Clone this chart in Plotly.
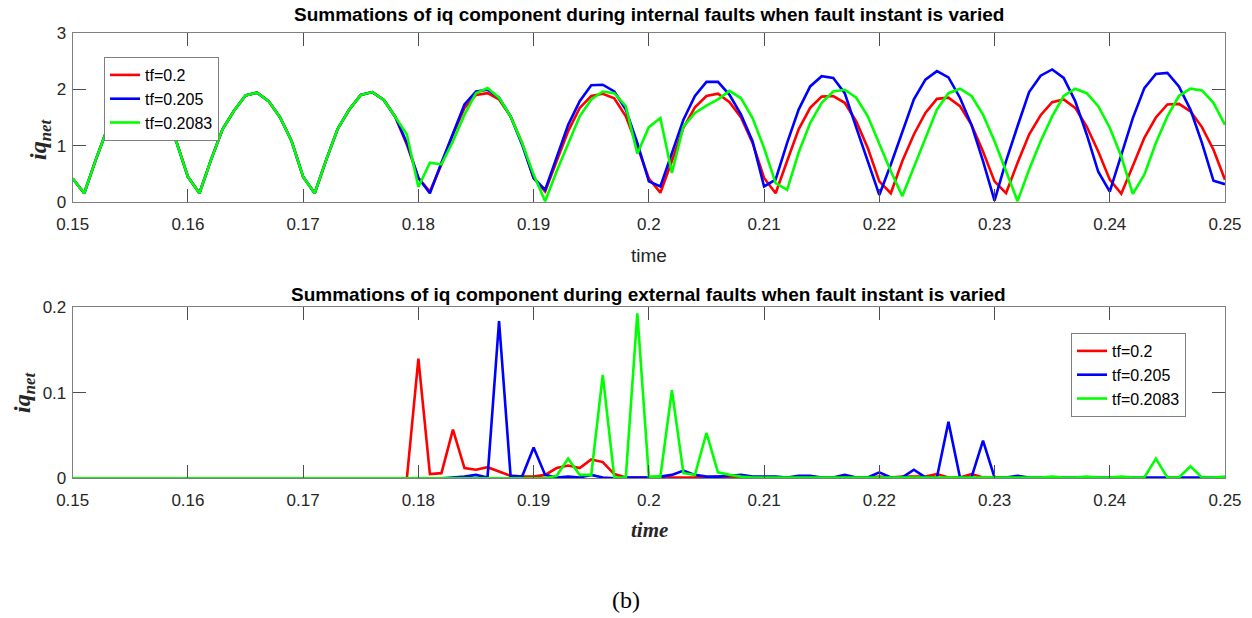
import numpy as np
import plotly.graph_objects as go

# ---------------- data ----------------
time = np.round(np.linspace(0.15, 0.25, 101), 3)

# internal faults: common pre-fault part 0.150 .. 0.178
int_pre = [0.42, 0.16, 0.75, 1.30, 1.62, 1.88, 1.93, 1.78, 1.49, 1.07,
           0.45, 0.16, 0.75, 1.29, 1.62, 1.89, 1.94, 1.79, 1.50, 1.08,
           0.45, 0.16, 0.75, 1.30, 1.64, 1.90, 1.95, 1.81, 1.51]
# 0.179 .. 0.250
int_tf_0200 = [1.02, 0.43, 0.19, 0.67, 1.20, 1.67, 1.90, 1.93, 1.82, 1.52,
               1.05, 0.43, 0.19, 0.73, 1.26, 1.67, 1.88, 1.92, 1.84, 1.52,
               0.99, 0.42, 0.17, 0.73, 1.32, 1.68, 1.88, 1.92, 1.77, 1.50,
               1.05, 0.43, 0.16, 0.73, 1.29, 1.67, 1.87, 1.88, 1.76, 1.43,
               0.96, 0.37, 0.16, 0.73, 1.20, 1.58, 1.83, 1.85, 1.70, 1.37,
               0.90, 0.37, 0.16, 0.70, 1.20, 1.54, 1.77, 1.82, 1.67, 1.34,
               0.90, 0.40, 0.15, 0.64, 1.14, 1.50, 1.73, 1.74, 1.61, 1.33,
               0.93, 0.40]
int_tf_0205 = [1.05, 0.43, 0.16, 0.70, 1.23, 1.73, 1.96, 1.99, 1.85, 1.52,
               1.02, 0.43, 0.22, 0.78, 1.37, 1.79, 2.07, 2.08, 1.96, 1.64,
               1.05, 0.37, 0.28, 0.87, 1.46, 1.88, 2.13, 2.13, 1.90, 1.55,
               1.08, 0.28, 0.40, 1.05, 1.64, 2.05, 2.23, 2.20, 1.93, 1.32,
               0.73, 0.13, 0.67, 1.26, 1.82, 2.17, 2.32, 2.21, 1.85, 1.37,
               0.73, 0.03, 0.73, 1.35, 1.95, 2.24, 2.35, 2.20, 1.79, 1.20,
               0.54, 0.19, 0.84, 1.49, 2.02, 2.27, 2.29, 2.05, 1.64, 1.05,
               0.38, 0.32]
int_tf_02083 = [1.20, 0.27, 0.70, 0.67, 1.08, 1.55, 1.93, 2.02, 1.85, 1.52,
                1.05, 0.49, 0.02, 0.55, 1.02, 1.52, 1.82, 1.96, 1.93, 1.70,
                0.86, 1.33, 1.49, 0.52, 1.34, 1.58, 1.71, 1.82, 1.97, 1.84,
                1.49, 0.96, 0.34, 0.22, 0.88, 1.40, 1.76, 1.96, 1.99, 1.85,
                1.52, 1.02, 0.55, 0.11, 0.61, 1.14, 1.64, 1.93, 2.01, 1.88,
                1.55, 1.08, 0.55, 0.02, 0.58, 1.08, 1.52, 1.88, 2.01, 1.93,
                1.70, 1.32, 0.81, 0.15, 0.49, 1.05, 1.52, 1.88, 2.01, 1.98,
                1.76, 1.37]

# external faults: zero pre-fault part 0.150 .. 0.178
ext_pre = [0.0] * 29
# 0.179 .. 0.250
ext_tf_0200 = [0.0, 0.140, 0.005, 0.006, 0.057, 0.012, 0.010, 0.013, 0.008, 0.003,
               0.002, 0.002, 0.004, 0.012, 0.015, 0.012, 0.022, 0.019, 0.005, 0.001,
               0.001, 0.001, 0.001, 0.001, 0.001, 0.001, 0.001, 0.002, 0.001, 0.001,
               0.001, 0.001, 0.001, 0.001, 0.001, 0.001, 0.001, 0.001, 0.002, 0.001,
               0.001, 0.002, 0.001, 0.002, 0.002, 0.002, 0.005, 0.001, 0.001, 0.005,
               0.001, 0.001, 0.001, 0.001, 0.0, 0.0, 0.0, 0.0, 0.0, 0.0,
               0.0, 0.0, 0.0, 0.0, 0.0, 0.0, 0.0, 0.0, 0.0, 0.0,
               0.0, 0.0]
ext_tf_0205 = [0.0, 0.0, 0.0, 0.0, 0.001, 0.002, 0.004, 0.001, 0.184, 0.003,
               0.002, 0.036, 0.004, 0.001, 0.002, 0.001, 0.004, 0.001, 0.0, 0.001,
               0.001, 0.001, 0.002, 0.004, 0.009, 0.004, 0.002, 0.002, 0.003, 0.004,
               0.002, 0.002, 0.002, 0.001, 0.003, 0.003, 0.001, 0.001, 0.004, 0.001,
               0.001, 0.007, 0.001, 0.001, 0.010, 0.001, 0.001, 0.066, 0.001, 0.001,
               0.044, 0.001, 0.001, 0.003, 0.001, 0.001, 0.001, 0.001, 0.001, 0.001,
               0.001, 0.001, 0.001, 0.001, 0.001, 0.001, 0.001, 0.001, 0.001, 0.001,
               0.001, 0.001]
ext_tf_02083 = [0.0, 0.0, 0.0, 0.0, 0.0, 0.0, 0.0, 0.0, 0.0, 0.0,
                0.0, 0.0, 0.0, 0.003, 0.023, 0.004, 0.004, 0.121, 0.001, 0.001,
                0.193, 0.002, 0.002, 0.103, 0.006, 0.004, 0.053, 0.007, 0.004, 0.002,
                0.001, 0.001, 0.001, 0.001, 0.001, 0.001, 0.001, 0.001, 0.001, 0.001,
                0.001, 0.001, 0.001, 0.001, 0.001, 0.001, 0.001, 0.001, 0.001, 0.001,
                0.001, 0.001, 0.001, 0.001, 0.001, 0.001, 0.002, 0.001, 0.001, 0.002,
                0.001, 0.001, 0.002, 0.001, 0.001, 0.023, 0.001, 0.001, 0.014, 0.001,
                0.001, 0.002]

series_names = ["tf=0.2", "tf=0.205", "tf=0.2083"]
series_colors = ["#ff0000", "#0000ff", "#00ff00"]

x_tick_vals = [0.15, 0.16, 0.17, 0.18, 0.19, 0.20, 0.21, 0.22, 0.23, 0.24, 0.25]
x_tick_text = ["0.15", "0.16", "0.17", "0.18", "0.19", "0.2", "0.21", "0.22", "0.23", "0.24", "0.25"]
top_y_ticks = [0, 1, 2, 3]
bot_y_ticks = [0, 0.1, 0.2]
bot_y_text = ["0", "0.1", "0.2"]

top_title = "Summations of iq component during internal faults when fault instant is varied"
bot_title = "Summations of iq component during external faults when fault instant is varied"

internal = [int_pre + int_tf_0200, int_pre + int_tf_0205, int_pre + int_tf_02083]
external = [ext_pre + ext_tf_0200, ext_pre + ext_tf_0205, ext_pre + ext_tf_02083]
for s in internal + external:
    assert len(s) == len(time), len(s)

# ---------------- figure ----------------
W, H = 1252, 618
SANS = "Liberation Sans, Arial, sans-serif"
SERIF = "Liberation Serif, Times New Roman, serif"
TXT = "#262626"

fig = go.Figure()
for name, col, ys in zip(series_names, series_colors, internal):
    fig.add_trace(go.Scatter(x=time, y=ys, mode="lines", name=name,
                             line=dict(color=col, width=2.6),
                             xaxis="x", yaxis="y", legend="legend"))
for name, col, ys in zip(series_names, series_colors, external):
    fig.add_trace(go.Scatter(x=time, y=ys, mode="lines", name=name,
                             line=dict(color=col, width=2.6),
                             xaxis="x2", yaxis="y2", legend="legend2"))

def px_x(p):
    return p / W

def px_y(p):
    return 1 - p / H

x_dom = [px_x(72.7), px_x(1225)]
axis_common = dict(showline=True, linecolor="#7f7f7f", linewidth=1, mirror="ticks",
                   ticks="inside", ticklen=13, tickcolor="#4d4d4d", tickwidth=1,
                   showgrid=False, zeroline=False, automargin=False,
                   tickfont=dict(family=SANS, size=17, color=TXT))

fig.update_layout(
    template="none",
    width=W, height=H,
    margin=dict(l=0, r=0, t=0, b=0, autoexpand=False),
    paper_bgcolor="white", plot_bgcolor="white",
    showlegend=True,
    xaxis=dict(domain=x_dom, anchor="y", range=[0.15, 0.25], ticklabelstandoff=6,
               tickvals=x_tick_vals, ticktext=x_tick_text, **axis_common),
    yaxis=dict(domain=[px_y(202.3), px_y(32.7)], anchor="x", range=[0, 3],
               ticklabelstandoff=2, tickvals=top_y_ticks, **axis_common),
    xaxis2=dict(domain=x_dom, anchor="y2", range=[0.15, 0.25], ticklabelstandoff=6,
                tickvals=x_tick_vals, ticktext=x_tick_text, **axis_common),
    yaxis2=dict(domain=[px_y(478.3), px_y(307.3)], anchor="x2", range=[0, 0.2],
                ticklabelstandoff=2, tickvals=bot_y_ticks, ticktext=bot_y_text,
                **axis_common),
    legend=dict(x=px_x(104), y=px_y(57), xanchor="left", yanchor="top",
                bgcolor="white", bordercolor="#7f7f7f", borderwidth=1,
                font=dict(family=SANS, size=16, color="black"),
                tracegroupgap=0),
    legend2=dict(x=px_x(1071), y=px_y(333), xanchor="left", yanchor="top",
                 bgcolor="white", bordercolor="#7f7f7f", borderwidth=1,
                 font=dict(family=SANS, size=16, color="black"),
                 tracegroupgap=0),
)

ann = []
ann.append(dict(text="<b>" + top_title + "</b>", x=px_x(648.5), y=px_y(15),
                font=dict(family=SANS, size=19, color="black")))
ann.append(dict(text="<b>" + bot_title + "</b>", x=px_x(648.5), y=px_y(294),
                font=dict(family=SANS, size=19, color="black")))
ann.append(dict(text="time", x=px_x(649), y=px_y(255),
                font=dict(family=SANS, size=19, color=TXT)))
ann.append(dict(text="<b><i>time</i></b>", x=px_x(649), y=px_y(530),
                font=dict(family=SERIF, size=21, color=TXT)))
ann.append(dict(text="<b><i>iq<sub>net</sub></i></b>", x=px_x(40), y=px_y(140),
                textangle=-90, font=dict(family=SERIF, size=24, color=TXT)))
ann.append(dict(text="<b><i>iq<sub>net</sub></i></b>", x=px_x(24), y=px_y(393),
                textangle=-90, font=dict(family=SERIF, size=24, color=TXT)))
ann.append(dict(text="(b)", x=px_x(626), y=px_y(600),
                font=dict(family=SERIF, size=24, color="black")))
for a in ann:
    a.update(xref="paper", yref="paper", showarrow=False,
             xanchor="center", yanchor="middle")
fig.update_layout(annotations=ann)

fig.write_html("out.html")
